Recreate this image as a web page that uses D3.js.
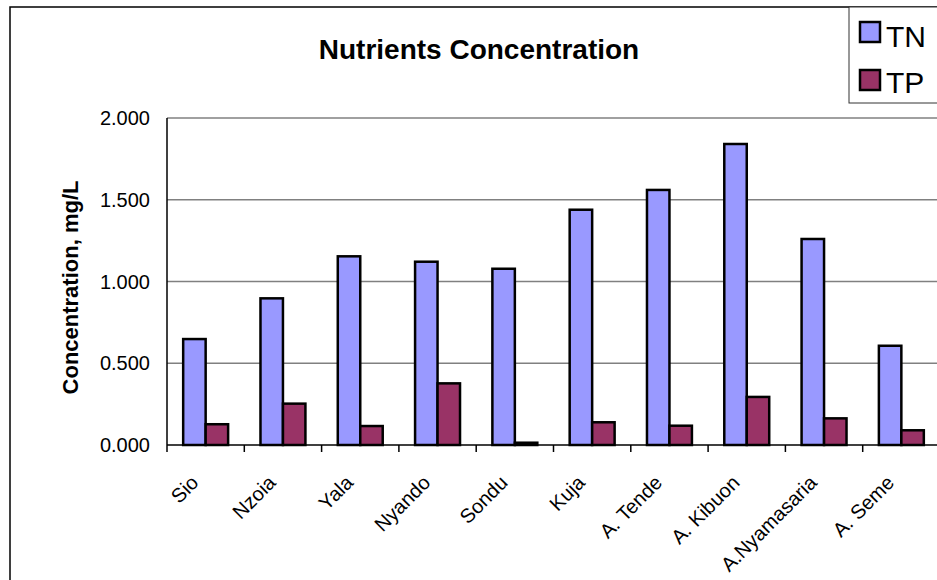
<!DOCTYPE html>
<html>
<head>
<meta charset="utf-8">
<script src="https://cdn.jsdelivr.net/npm/d3@7"></script>
<style>
  body { margin: 0; background: #fff; }
  svg { display: block; font-family: "Liberation Sans", Arial, sans-serif; }
</style>
</head>
<body>
<svg id="chart"></svg>
<script>
// Nutrients concentration: TN and TP per river / site

const categories = ["Sio", "Nzoia", "Yala", "Nyando", "Sondu", "Kuja", "A. Tende", "A. Kibuon", "A.Nyamasaria", "A. Seme"];
const seriesNames = ["TN", "TP"];
const tnValues = [0.648, 0.897, 1.154, 1.121, 1.078, 1.439, 1.560, 1.841, 1.260, 0.607];
const tpValues = [0.127, 0.253, 0.116, 0.377, 0.014, 0.139, 0.118, 0.294, 0.163, 0.090];
const yTicks = [0, 0.5, 1.0, 1.5, 2.0];
const colors = { TN: "#9999FF", TP: "#993366" };

const width = 937;
const height = 580;
const plot = { left: 167, right: 940, top: 118, bottom: 445 };

const svg = d3.select("#chart")
    .attr("width", width)
    .attr("height", height);

// chart frame (cropped at right and bottom in the original)
svg.append("rect")
    .attr("x", 10).attr("y", 7)
    .attr("width", 1000).attr("height", 700)
    .attr("fill", "none")
    .attr("stroke", "#000")
    .attr("stroke-width", 1.5);

svg.append("text")
    .attr("x", 479).attr("y", 59)
    .attr("text-anchor", "middle")
    .attr("font-size", "28px")
    .attr("font-weight", "bold")
    .text("Nutrients Concentration");

const x0 = d3.scaleBand()
    .domain(categories)
    .range([plot.left, plot.right])
    .paddingInner(0).paddingOuter(0);

const x1 = d3.scaleBand()
    .domain(seriesNames)
    .range([0, x0.bandwidth()])
    .paddingInner(0).paddingOuter(0.72);

const y = d3.scaleLinear()
    .domain([0, 2])
    .range([plot.bottom, plot.top]);

// gridlines
svg.append("g")
    .selectAll("line")
    .data(yTicks.filter(d => d > 0))
    .enter().append("line")
    .attr("x1", plot.left).attr("x2", plot.right)
    .attr("y1", d => y(d)).attr("y2", d => y(d))
    .attr("stroke", "#808080")
    .attr("stroke-width", 1.5);

// y tick labels
svg.append("g")
    .selectAll("text")
    .data(yTicks)
    .enter().append("text")
    .attr("x", 150)
    .attr("y", d => y(d))
    .attr("dy", "0.36em")
    .attr("text-anchor", "end")
    .attr("font-size", "20px")
    .text(d => d3.format(".3f")(d));

svg.append("text")
    .attr("transform", `translate(78,${(plot.top + plot.bottom) / 2 + 6}) rotate(-90)`)
    .attr("text-anchor", "middle")
    .attr("font-size", "22px")
    .attr("font-weight", "bold")
    .text("Concentration, mg/L");

// bars
const rows = categories.map((c, i) => ({ cat: c, TN: tnValues[i], TP: tpValues[i] }));

const groups = svg.append("g")
    .selectAll("g")
    .data(rows)
    .enter().append("g")
    .attr("transform", d => `translate(${x0(d.cat)},0)`);

groups.selectAll("rect")
    .data(d => seriesNames.map(s => ({ key: s, value: d[s] })))
    .enter().append("rect")
    .attr("x", d => x1(d.key))
    .attr("y", d => y(d.value))
    .attr("width", x1.bandwidth())
    .attr("height", d => y(0) - y(d.value))
    .attr("fill", d => colors[d.key])
    .attr("stroke", "#000")
    .attr("stroke-width", 2.5);

// axes lines
svg.append("line")
    .attr("x1", plot.left).attr("x2", plot.left)
    .attr("y1", plot.top).attr("y2", plot.bottom)
    .attr("stroke", "#000").attr("stroke-width", 1.5);

svg.append("line")
    .attr("x1", plot.left).attr("x2", plot.right)
    .attr("y1", plot.bottom).attr("y2", plot.bottom)
    .attr("stroke", "#000").attr("stroke-width", 1.5);

// x ticks at category boundaries
svg.append("g")
    .selectAll("line")
    .data(categories)
    .enter().append("line")
    .attr("x1", d => x0(d)).attr("x2", d => x0(d))
    .attr("y1", plot.bottom).attr("y2", plot.bottom + 7)
    .attr("stroke", "#000").attr("stroke-width", 1.5);

// rotated category labels
svg.append("g")
    .selectAll("text")
    .data(categories)
    .enter().append("text")
    .attr("transform", d => `translate(${x0(d) + x0.bandwidth() / 2 - 6},484) rotate(-45)`)
    .attr("text-anchor", "end")
    .attr("font-size", "20px")
    .text(d => d);

// legend
const legend = svg.append("g");
legend.append("rect")
    .attr("x", 849).attr("y", 7)
    .attr("width", 120).attr("height", 96)
    .attr("fill", "#fff")
    .attr("stroke", "#333")
    .attr("stroke-width", 1);

seriesNames.forEach((s, i) => {
    legend.append("rect")
        .attr("x", 860).attr("y", 22 + i * 48)
        .attr("width", 20).attr("height", 20)
        .attr("fill", colors[s])
        .attr("stroke", "#000")
        .attr("stroke-width", 2.5);
    legend.append("text")
        .attr("x", 886).attr("y", 47 + i * 46)
        .attr("font-size", "30px")
        .text(s);
});
</script>
</body>
</html>
